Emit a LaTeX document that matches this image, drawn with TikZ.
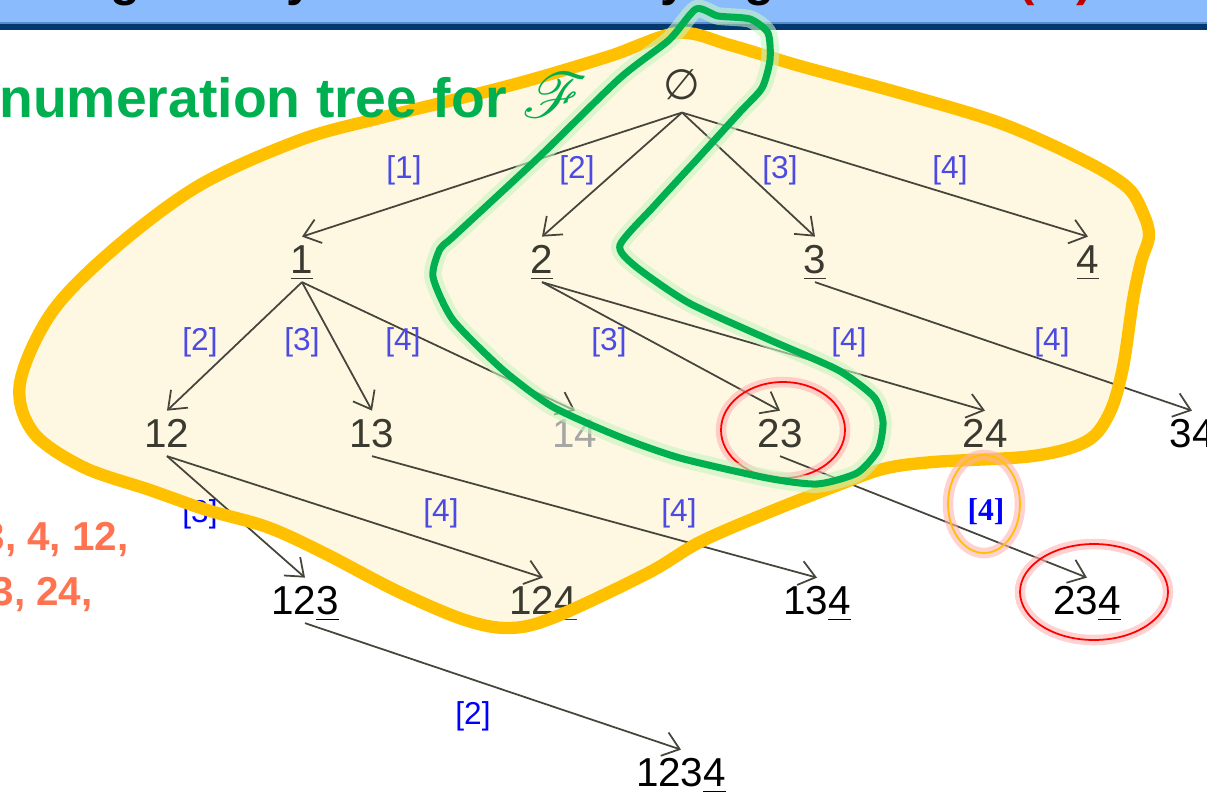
\documentclass[tikz,border=0pt]{standalone}
\usepackage{fontspec}
\setmainfont{Liberation Sans}
\newfontfamily\symfont{DejaVu Sans}
\newfontfamily\labserif{Liberation Serif}
\usepackage{mathrsfs}
\usepackage{xcolor}
\usepackage{tikz}
\usetikzlibrary{arrows.meta, positioning}
\definecolor{TreeInk}{HTML}{3A3A30}
\definecolor{LinkGray}{HTML}{45453C}
\definecolor{EdgeBlue}{HTML}{4B4BE3}
\definecolor{PureBlue}{HTML}{0000FF}
\definecolor{BlobYellow}{HTML}{FFC000}
\definecolor{BlobCream}{HTML}{FEF7E2}
\definecolor{HookGreen}{HTML}{00B050}
\definecolor{HookGlow}{HTML}{C8F5C0}
\definecolor{MarkRed}{HTML}{FF0000}
\definecolor{NoteCoral}{HTML}{FF7351}
\definecolor{HeadBlue}{HTML}{8ABBFD}
\definecolor{HeadLine}{HTML}{5A8AC8}
\definecolor{HeadNavy}{HTML}{003870}
\definecolor{TitleRed}{HTML}{C00000}
\newcommand{\lastul}[1]{\setbox0=\hbox{#1}\rlap{\rule[-3.5pt]{\wd0}{0.9pt}}\box0}
\newcommand{\scriptF}{\scalebox{1.45}{\fontsize{24.88}{25}\usefont{U}{rsfs}{m}{n}F}}
\newcommand{\blobpath}{plot[smooth cycle, tension=0.55] coordinates {(678,33) (610,56) (530,80) (453,100) (380,118) (300,140) (200,185) (115,248) (52,312) (20,383) (33,432) (83,467) (150,490) (207,510) (267,527) (322,552) (399,592) (465,620) (510,628) (555,617) (648,573) (700,542) (767,513) (833,487) (883,469) (933,462) (1033,456) (1087,441) (1110,412) (1123,367) (1133,300) (1141,262) (1149,236) (1143,213) (1127,187) (1083,160) (1000,123) (900,93) (800,66) (730,45)}}
\newcommand{\hookpath}{plot[smooth cycle, tension=0.4] coordinates {(669,40) (696,9) (718,16) (750,19) (768,33) (770,60) (762,88) (740,112) (700,156) (655,205) (620,245) (635,266) (689,303) (770,340) (838,370) (874,397) (883,422) (878,450) (857,473) (817,484) (767,478) (680,458) (620,437) (553,407) (503,370) (453,320) (433,277) (440,249) (454,236) (538,158) (620,78)}}

\begin{document}
\begin{tikzpicture}[x=0.02cm, y=-0.02cm,
  setnode/.style={anchor=base, inner sep=1.5pt, text height=19pt, text depth=3.5pt,
    font=\fontsize{23}{26}\selectfont, text=TreeInk},
  faded/.style={setnode, text=TreeInk!45},
  lbl/.style={inner sep=0pt, font=\fontsize{18}{20}\selectfont, text=EdgeBlue},
  lblout/.style={lbl, text=PureBlue},
  link/.style={-{Straight Barb[length=9pt,width=14pt]}, line width=1pt, draw=LinkGray},
  ring/.style={draw=MarkRed, line width=1pt},
  glow/.style={line width=6pt, draw=MarkRed!30, opacity=0.6},
  ttl/.style={anchor=base, inner sep=0pt, font=\bfseries\fontsize{28}{28}\selectfont},
  note/.style={anchor=base east, inner sep=0pt, font=\bfseries\fontsize{23}{26}\selectfont, text=NoteCoral}
]
\useasboundingbox (0,0) rectangle (1207,792);
\clip (0,0) rectangle (1207,792);

\fill[HeadBlue] (0,0) rectangle (1207,22);
\fill[HeadLine] (0,22) rectangle (1207,24);
\fill[HeadNavy] (0,24) rectangle (1207,30);
\node[ttl] (ttlg1) at (126,-5) {g};
\node[ttl] (ttly1) at (300,-5) {y};
\node[ttl] (ttly2) at (674,-5) {y};
\node[ttl] (ttlg2) at (760,-5) {g};
\node[ttl, text=TitleRed] (ttlpo) at (1027,-5) {(};
\node[ttl, text=TitleRed] (ttlpc) at (1085,-5) {)};

\fill[BlobCream] \blobpath;

\node[setnode, text depth=6pt, font=\symfont\fontsize{24}{26}\selectfont] (e0) at (682,99) {∅};
\node[setnode] (n1) at (302,273) {\lastul{1}};
\node[setnode] (n2) at (542,273) {\lastul{2}};
\node[setnode] (n3) at (815,273) {\lastul{3}};
\node[setnode] (n4) at (1088,273) {\lastul{4}};
\node[setnode] (n12) at (167,447) {12};
\node[setnode] (n13) at (372,447) {13};
\node[faded] (n14) at (575,447) {14};
\node[setnode] (n23) at (780,447) {23};
\node[setnode] (n24) at (985,447) {24};
\node[setnode, text=black] (n34) at (1192,447) {34};
\node[setnode, text=black] (n123) at (305,614) {12\lastul{3}};
\node[setnode] (n124) at (543,614) {12\lastul{4}};
\node[setnode, text=black] (n134) at (817,614) {13\lastul{4}};
\node[setnode, text=black] (n234) at (1087,614) {23\lastul{4}};
\node[setnode, text=black] (n1234) at (681,786) {123\lastul{4}};

\draw[link] (e0.south) -- (n1.north);
\draw[link] (e0.south) -- (n2.north);
\draw[link] (e0.south) -- (n3.north);
\draw[link] (e0.south) -- (n4.north);
\draw[link] (n1.south) -- (n12.north);
\draw[link] (n1.south) -- (n13.north);
\draw[link] (n1.south) -- (n14.north);
\draw[link] (n2.south) -- (n23.north);
\draw[link] (n2.south) -- (n24.north);
\draw[link] (n3.south) -- (n34.north);
\draw[link] (n12.south) -- (n123.north);
\draw[link] (n12.south) -- (n124.north);
\draw[link] (n13.south) -- (n134.north);
\draw[link] (n23.south) -- (n234.north);
\draw[link] (n123.south) -- (n1234.north);

\node[lbl] (l01) at (404,170) {[1]};
\node[lbl] (l02) at (577,170) {[2]};
\node[lbl] (l03) at (780,170) {[3]};
\node[lbl] (l04) at (950,170) {[4]};
\node[lbl] (l112) at (200,342) {[2]};
\node[lbl] (l113) at (302,342) {[3]};
\node[lbl] (l114) at (403,342) {[4]};
\node[lbl] (l223) at (609,342) {[3]};
\node[lbl] (l224) at (849,342) {[4]};
\node[lbl] (l334) at (1052,342) {[4]};
\node[lblout] (l123) at (200,514) {[3]};
\node[lbl] (l124) at (441,513) {[4]};
\node[lbl] (l134) at (679,513) {[4]};
\node[lblout, font=\labserif\bfseries\fontsize{18}{20}\selectfont] (l234) at (986,512) {[4]};
\node[lblout] (l1234) at (473,716) {[2]};

\draw[BlobYellow, line width=7pt] \blobpath;

\node[anchor=base west, inner sep=0pt, font=\bfseries\fontsize{31.5}{36}\selectfont, text=HookGreen] (treetitle) at (-1,117) {numeration tree for \scriptF};
\node[note] (noteA) at (129,550) {3, 4, 12,};
\node[note] (noteB) at (93,605) {3, 24,};

\draw[glow] (783,430) ellipse [x radius=62, y radius=48];
\draw[ring] (783,430) ellipse [x radius=62, y radius=48];
\draw[glow] (1094,592) ellipse [x radius=74, y radius=48];
\draw[ring] (1094,592) ellipse [x radius=74, y radius=48];
\draw[glow] (984,504) ellipse [x radius=36, y radius=49];
\draw[draw=BlobYellow, line width=1pt] (984,504) ellipse [x radius=36, y radius=49];

\draw[HookGlow, line width=10pt, opacity=0.6, line join=round] \hookpath;
\draw[HookGreen, line width=4pt, line join=round] \hookpath;
\end{tikzpicture}
\end{document}
